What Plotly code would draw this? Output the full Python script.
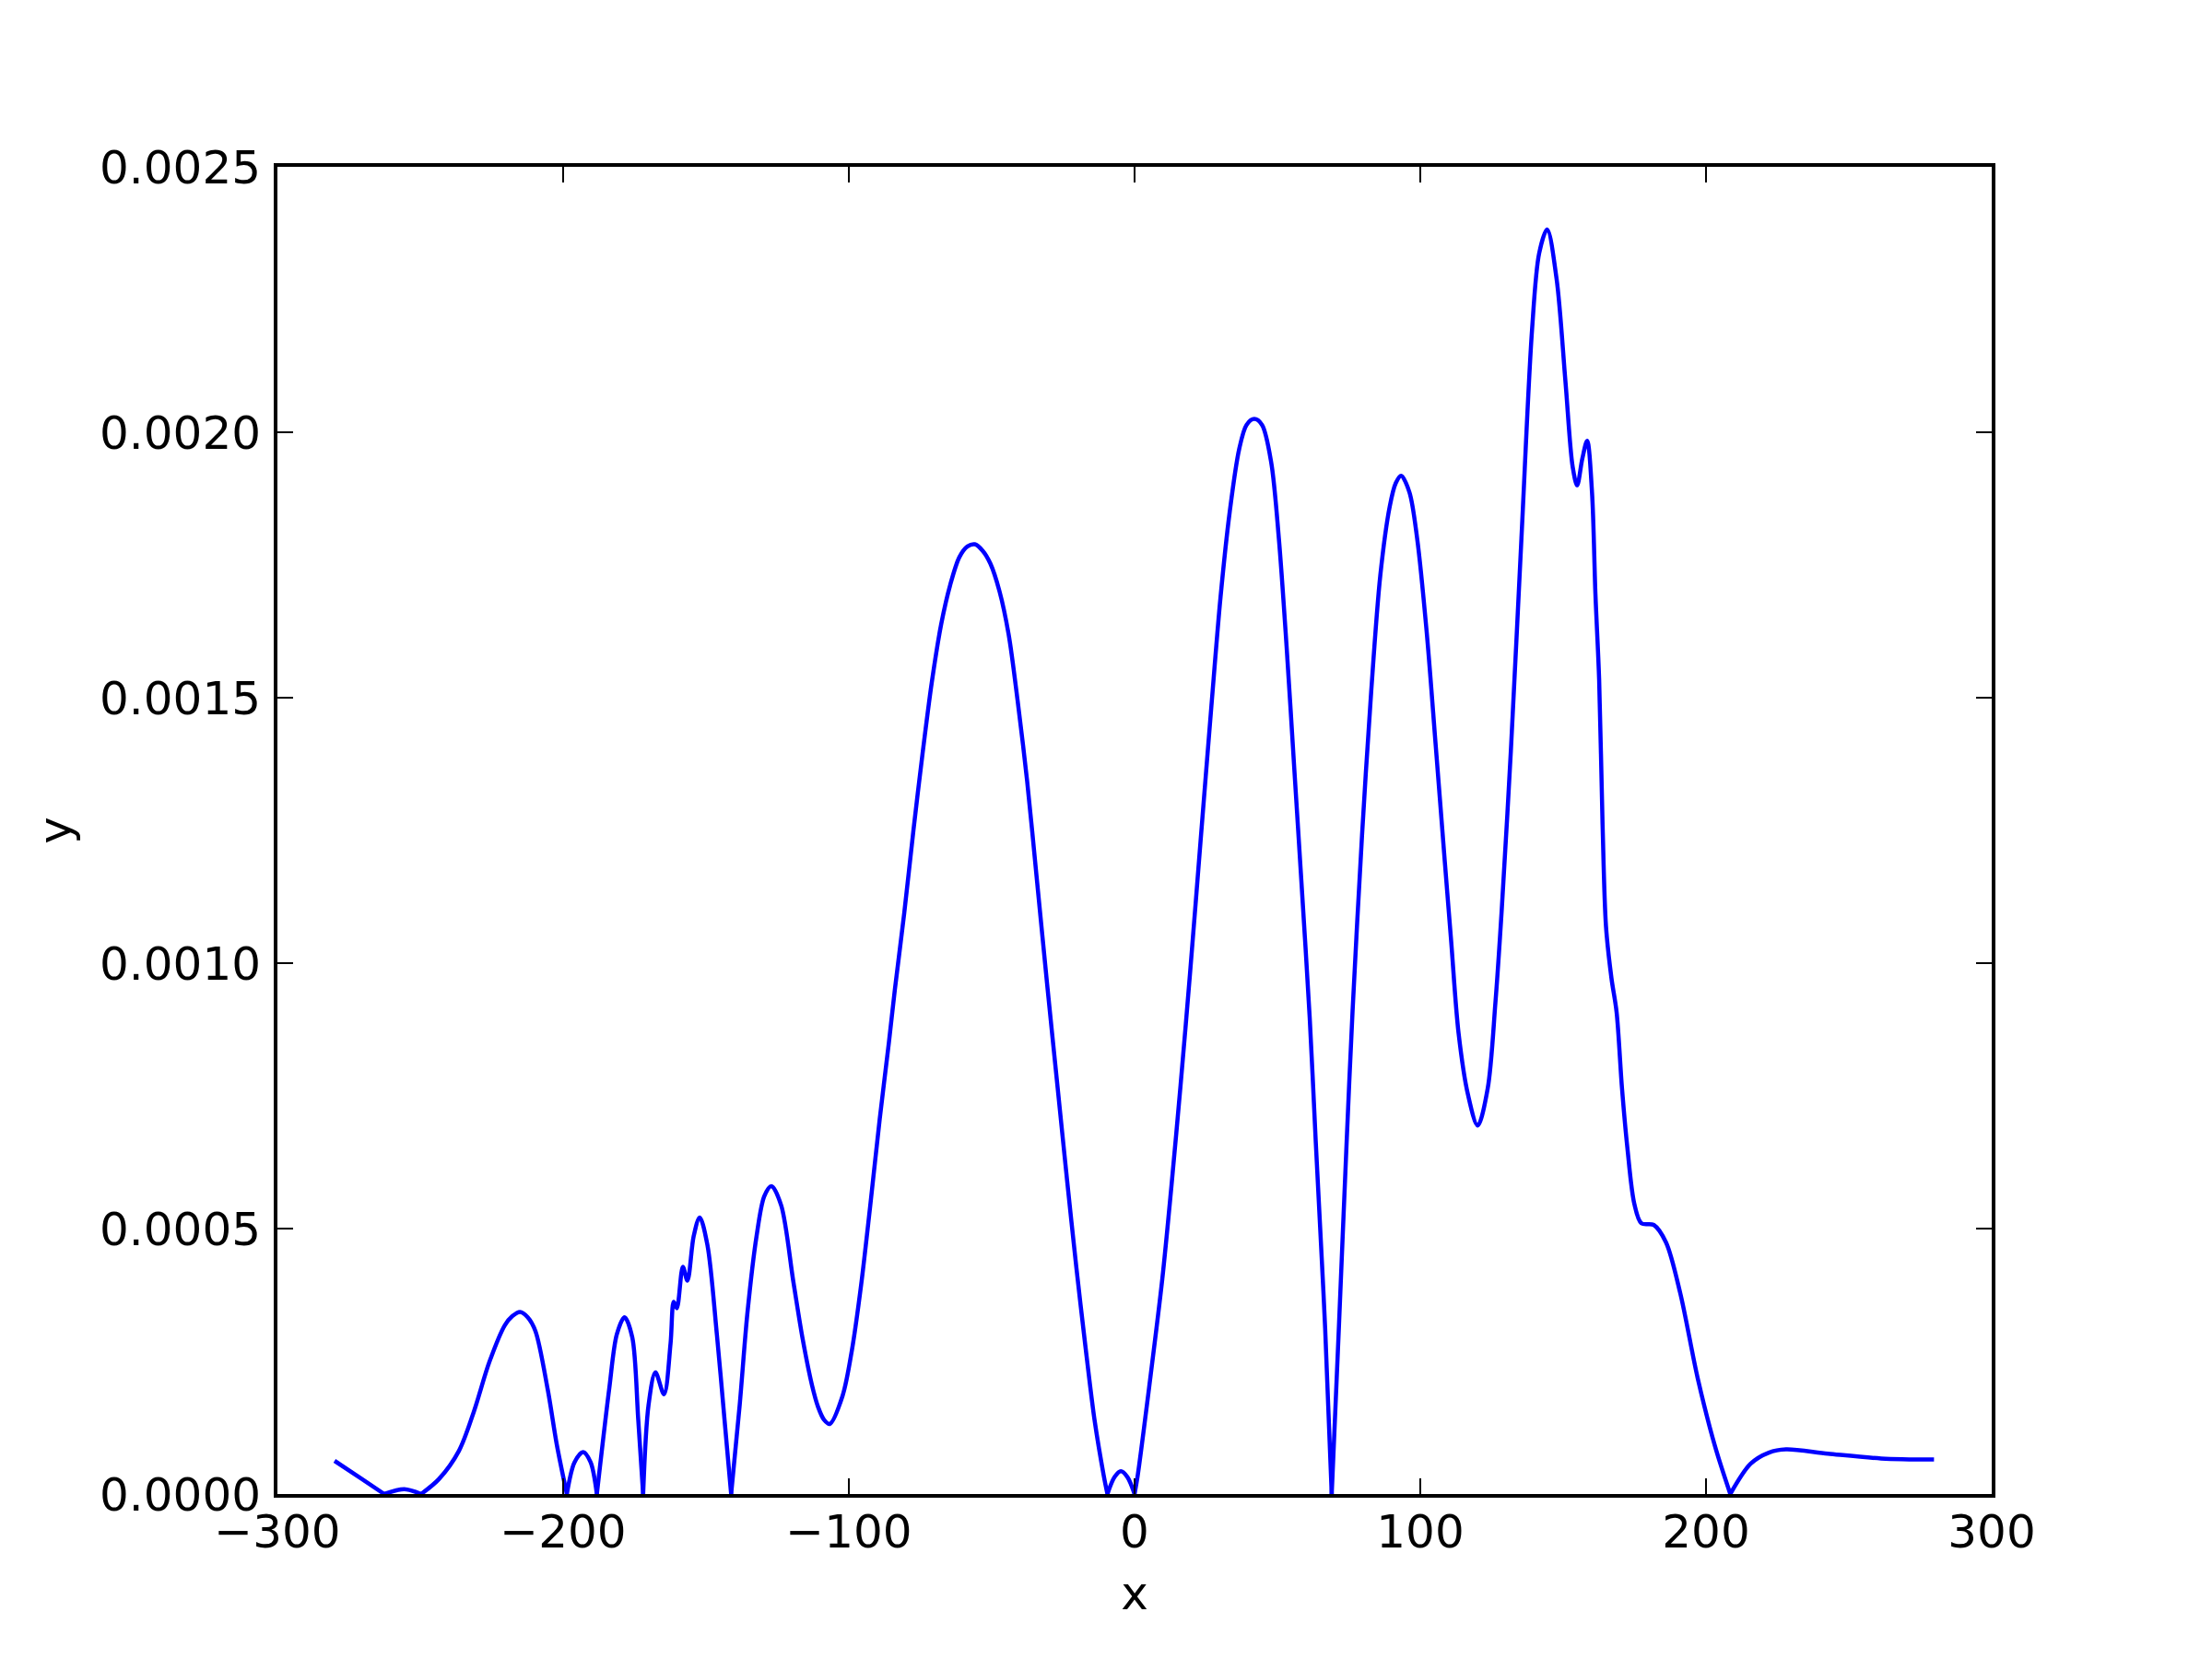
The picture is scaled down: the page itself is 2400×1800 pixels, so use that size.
import plotly.graph_objects as go

# values
x_vals = [
    -280.0, -270.6, -262.6, -255.6, -249.7, -243.5, -236.5, -231.2, -225.8, -220.4,
    -217.8, -215.1, -212.4, -209.7, -205.4, -202.2, -198.7, -196.0, -193.0, -190.4,
    -188.2, -183.9, -181.2, -178.5, -175.8, -173.7, -172.0, -170.1, -167.7, -164.7,
    -162.4, -161.3, -160.2, -158.1, -156.5, -154.3, -152.2, -149.5, -146.2, -143.5,
    -141.2, -138.2, -135.5, -132.3, -129.6, -127.1, -123.7, -119.4, -116.1, -112.9,
    -110.7, -108.7, -106.7, -102.2, -98.9, -95.7, -92.5, -89.2, -86.0, -83.9, -80.6,
    -77.4, -74.2, -71.0, -67.7, -64.5, -61.3, -58.5, -55.9, -53.2, -50.5,
    -47.3, -44.1, -40.9, -37.6, -34.4, -30.6, -26.9, -23.6, -20.4, -17.2,
    -14.0, -10.8, -9.5, -7.0, -4.8, -2.5, 0.0, 1.1, 5.4, 9.7,
    12.9, 16.1, 19.4, 23.1, 26.9, 30.1, 33.3, 36.6, 39.2, 41.9,
    44.6, 47.8, 50.5, 53.2, 55.9, 58.2, 61.3, 63.4, 65.6, 66.7,
    69.0, 71.5, 74.2, 76.3, 79.6, 82.8, 86.0, 89.3, 91.4, 93.3,
    96.2, 98.9, 102.2, 105.4, 108.6, 110.8, 113.4, 116.7, 120.1, 123.6,
    126.3, 128.5, 131.7, 135.4, 139.1, 141.6, 144.4, 147.7, 150.8, 153.3,
    154.9, 156.7, 158.4, 160.1, 161.3, 162.6, 163.8, 165.0, 166.9, 168.7,
    170.6, 172.5, 174.9, 177.4, 181.7, 186.0, 191.0, 197.1, 203.2, 208.5,
    215.6, 222.0, 228.0, 242.7, 261.3, 279.8,
]
y_vals = [
    0.0000625, 0.000029, 0.0, 0.000009, 0.0, 0.000028, 0.000081, 0.000156, 0.000249, 0.000318,
    0.000335, 0.000343, 0.000333, 0.000307, 0.000197, 0.0000925, 0.0, 0.00006, 0.000079, 0.00006,
    0.0, 0.000197, 0.000301, 0.000333, 0.000295, 0.000139, 0.0, 0.000168, 0.000229, 0.000188,
    0.000284, 0.000362, 0.00035, 0.000428, 0.000402, 0.000486, 0.000521, 0.000469, 0.000301, 0.000139,
    0.0, 0.000168, 0.000341, 0.000486, 0.000561, 0.00058, 0.000544, 0.000399, 0.00029, 0.000205,
    0.000163, 0.00014, 0.000132, 0.000185, 0.000272, 0.000394, 0.000544, 0.000706, 0.00085, 0.00095, 0.001095,
    0.00125, 0.001395, 0.001528, 0.001638, 0.001713, 0.001765, 0.001785, 0.001789, 0.001777, 0.001753,
    0.001701, 0.00162, 0.001493, 0.001343, 0.001169, 0.00096, 0.000764, 0.00059, 0.000428, 0.000278,
    0.000139, 0.000035, 0.0, 0.000032, 0.000043, 0.000032, 0.0, 0.000035, 0.000214, 0.000405,
    0.00058, 0.00077, 0.00098, 0.00123, 0.001485, 0.00169, 0.00185, 0.001968, 0.002014, 0.002025,
    0.002014, 0.001944, 0.0018, 0.001597, 0.001366, 0.00117, 0.000897, 0.000665, 0.000434, 0.0003125,
    0.0, 0.0003125, 0.00066, 0.00091, 0.00124, 0.00151, 0.00173, 0.00186, 0.001904, 0.001918,
    0.001887, 0.0018, 0.001626, 0.00141, 0.00119, 0.001042, 0.000868, 0.000752, 0.000694, 0.000764,
    0.000926, 0.0011, 0.0014, 0.0018, 0.002192, 0.002337, 0.002382, 0.002289, 0.002096, 0.001936,
    0.0019, 0.00195, 0.001984, 0.001887, 0.001695, 0.001534, 0.001261, 0.001069, 0.000972, 0.000908,
    0.000764, 0.000651, 0.000547, 0.00051, 0.000507, 0.000474, 0.000378, 0.000218, 0.000089, 0.0,
    0.000057, 0.000078, 0.000084, 0.000076, 0.000067, 0.000065,
]

x_ticks = [-300, -200, -100, 0, 100, 200, 300]
x_tick_text = ["\u2212300", "\u2212200", "\u2212100", "0", "100", "200", "300"]
y_ticks = [0.0, 0.0005, 0.0010, 0.0015, 0.0020, 0.0025]
y_tick_text = ["0.0000", "0.0005", "0.0010", "0.0015", "0.0020", "0.0025"]

fig = go.Figure()

# split at the zeros so the V-shaped cusps stay sharp
breaks = [0] + [i for i, v in enumerate(y_vals) if v == 0.0] + [len(y_vals) - 1]
for a, b in zip(breaks[:-1], breaks[1:]):
    if b <= a:
        continue
    fig.add_trace(go.Scatter(
        x=x_vals[a:b + 1],
        y=y_vals[a:b + 1],
        mode="lines",
        line=dict(color="#0000ff", width=4.5, shape="spline", smoothing=0.9),
        showlegend=False,
        hoverinfo="skip",
    ))

axis_common = dict(
    showline=True,
    linecolor="black",
    linewidth=4,
    mirror="ticks",
    ticks="inside",
    ticklen=17,
    tickwidth=2,
    tickcolor="black",
    showgrid=False,
    zeroline=False,
    tickfont=dict(family="DejaVu Sans", size=50, color="black"),
    title_font=dict(family="DejaVu Sans", size=50, color="black"),
)

fig.update_xaxes(
    range=[-300, 300],
    tickvals=x_ticks,
    ticktext=x_tick_text,
    ticklabelstandoff=-6,
    title_text="x",
    title_standoff=22,
    **axis_common,
)
fig.update_yaxes(
    range=[0, 0.0025],
    tickvals=y_ticks,
    ticktext=y_tick_text,
    ticklabelstandoff=4,
    title_text="y",
    title_standoff=16,
    **axis_common,
)

# page body adds an 8px offset, so the margins are shifted to compensate
fig.update_layout(
    width=2400,
    height=1800,
    margin=dict(l=293, r=247, t=173, b=187),
    paper_bgcolor="white",
    plot_bgcolor="white",
    font=dict(family="DejaVu Sans", color="black"),
)

fig.write_html("out.html")
